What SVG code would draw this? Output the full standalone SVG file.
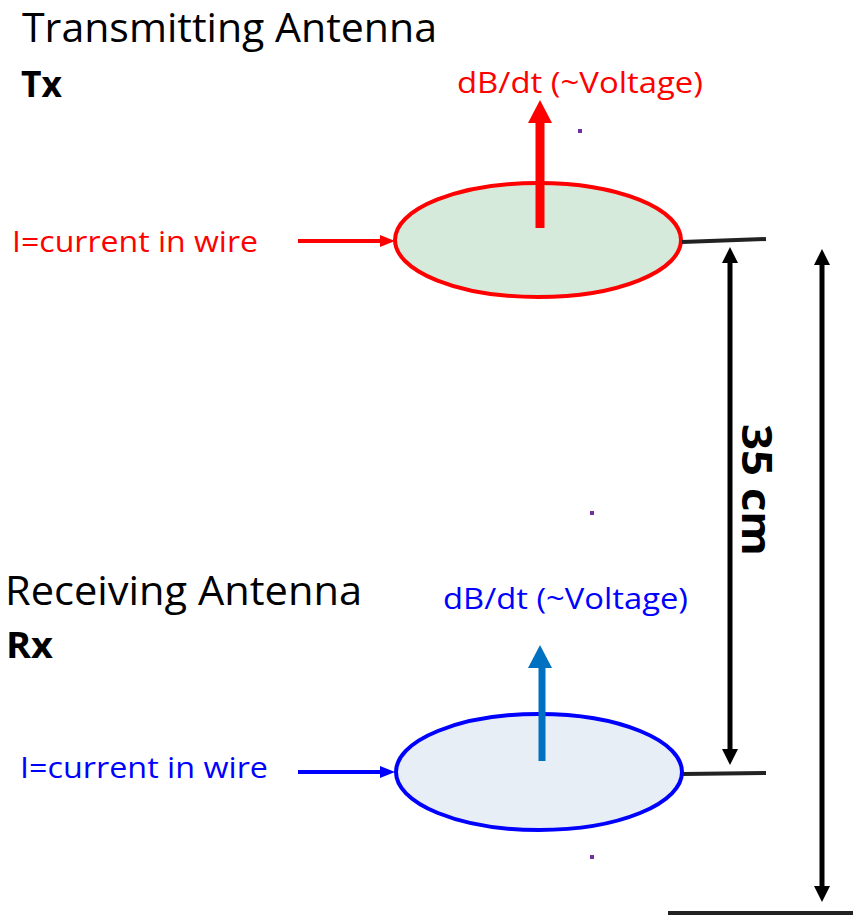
<svg xmlns="http://www.w3.org/2000/svg" width="858" height="923" viewBox="0 0 858 923">
<style>
  text { font-family: "Open Sans", "Liberation Sans", sans-serif; }
  .title { font-size: 40px; fill: #000; }
  .bold { font-size: 36px; font-weight: bold; fill: #000; }
  .lbl { font-size: 29px; }
  .red { fill: #FF0000; }
  .blue { fill: #0000FF; }
  .blk { stroke: #000; stroke-width: 5; fill: none; }
  .bar { stroke: #222; stroke-width: 4; fill: none; }
</style>
<rect width="858" height="923" fill="#fff"/>

<g id="labels">
  <text class="title" x="22" y="42" textLength="415" lengthAdjust="spacingAndGlyphs">Transmitting Antenna</text>
  <text class="bold" x="21" y="97" textLength="41" lengthAdjust="spacingAndGlyphs">Tx</text>
  <text class="title" x="5" y="605" textLength="357" lengthAdjust="spacingAndGlyphs">Receiving Antenna</text>
  <text class="bold" x="6" y="658" textLength="47" lengthAdjust="spacingAndGlyphs">Rx</text>
</g>

<g id="tx-antenna">
  <ellipse cx="538" cy="240" rx="143" ry="57" fill="#D5EADA" stroke="#FF0000" stroke-width="4"/>
  <text class="lbl red" x="457" y="93" textLength="246" lengthAdjust="spacingAndGlyphs">dB/dt (~Voltage)</text>
  <text class="lbl red" x="12" y="252" textLength="246" lengthAdjust="spacingAndGlyphs">I=current in wire</text>
</g>

<g id="rx-antenna">
  <ellipse cx="539" cy="772" rx="143" ry="58" fill="#E8EEF5" stroke="#0000FF" stroke-width="4"/>
  <text class="lbl blue" x="443" y="609" textLength="245" lengthAdjust="spacingAndGlyphs">dB/dt (~Voltage)</text>
  <text class="lbl blue" x="20" y="778" textLength="248" lengthAdjust="spacingAndGlyphs">I=current in wire</text>
</g>

<g id="distance-label">
  <text transform="translate(742,490) rotate(90)" text-anchor="middle" font-size="42" font-weight="bold" fill="#000" textLength="132" lengthAdjust="spacingAndGlyphs">35 cm</text>
</g>

<g id="dots" fill="#7030A0">
  <rect x="578" y="129" width="4" height="4"/>
  <rect x="590" y="511" width="4" height="4"/>
  <rect x="590" y="855" width="4" height="4"/>
</g>

<g id="connectors">
  <!-- red dB/dt arrow -->
  <line x1="540" y1="228" x2="540" y2="120" stroke="#FF0000" stroke-width="9"/>
  <polygon points="528,123 552,123 540,100" fill="#FF0000"/>
  <!-- red current arrow -->
  <line x1="298" y1="241" x2="382" y2="241" stroke="#FF0000" stroke-width="4"/>
  <polygon points="380,235 380,247 395,241" fill="#FF0000"/>
  <!-- blue dB/dt arrow -->
  <line x1="542" y1="761" x2="542" y2="665" stroke="#0070C0" stroke-width="7"/>
  <polygon points="528,668 552,668 540,645" fill="#0070C0"/>
  <!-- blue current arrow -->
  <line x1="298" y1="772" x2="382" y2="772" stroke="#0000FF" stroke-width="4"/>
  <polygon points="380,766 380,778 395,772" fill="#0000FF"/>
  <!-- terminal bars -->
  <line class="bar" x1="682" y1="242" x2="766" y2="239"/>
  <line class="bar" x1="683" y1="774" x2="766" y2="773"/>
  <line class="bar" x1="668" y1="913" x2="853" y2="913"/>
  <!-- 35 cm double arrow -->
  <line class="blk" x1="730" y1="260" x2="730" y2="752"/>
  <polygon points="722,263 738,263 730,247" fill="#000"/>
  <polygon points="722,749 738,749 730,765" fill="#000"/>
  <!-- outer double arrow -->
  <line class="blk" x1="822" y1="262" x2="822" y2="889"/>
  <polygon points="814,265 830,265 822,249" fill="#000"/>
  <polygon points="814,886 830,886 822,902" fill="#000"/>
</g>
</svg>
